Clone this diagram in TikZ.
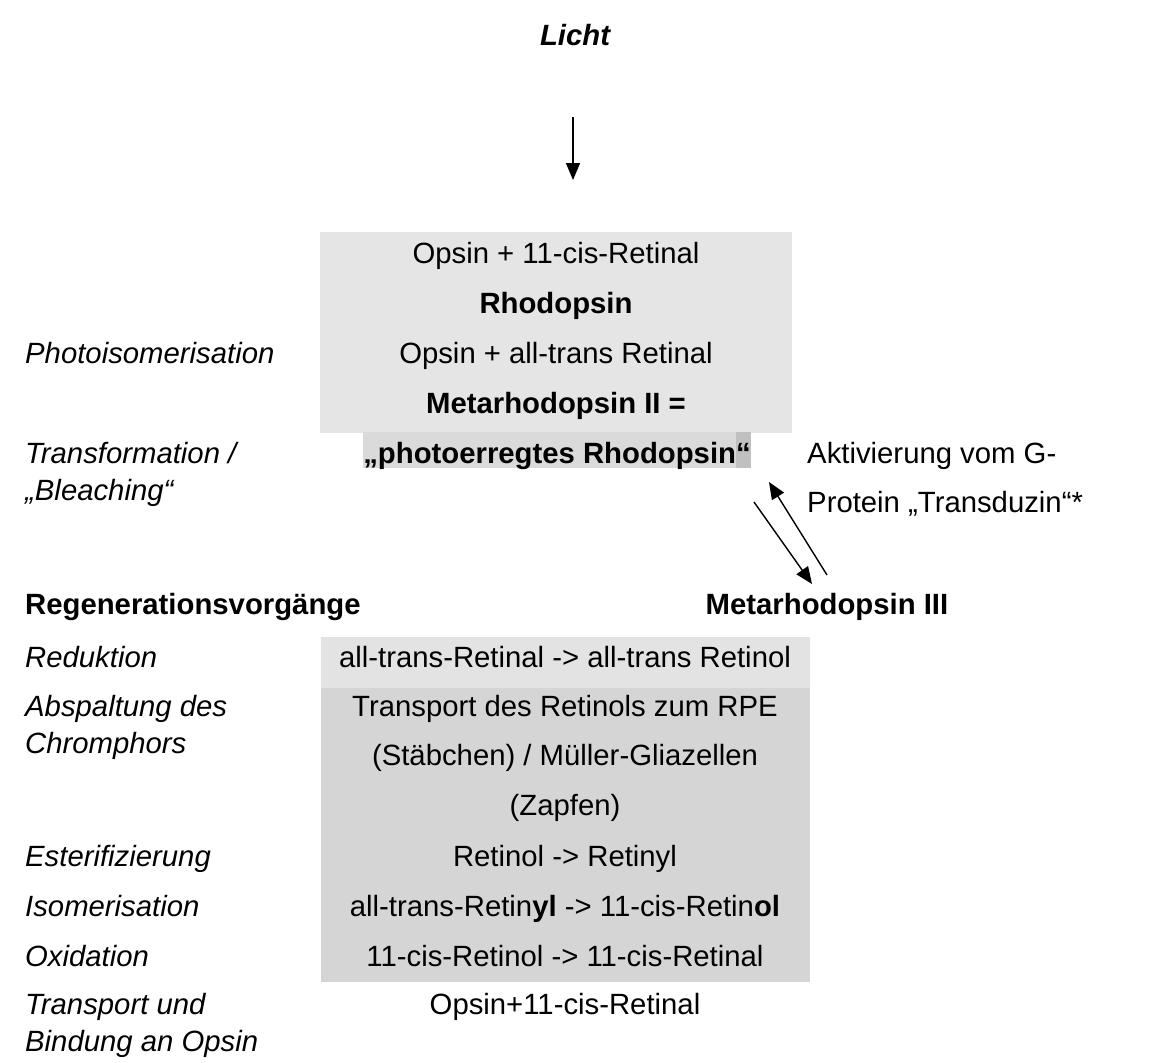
\documentclass[tikz,border=0pt]{standalone}
\usepackage{fontspec}
\setmainfont{Liberation Sans}
\usetikzlibrary{arrows.meta}
\definecolor{boxA}{HTML}{E5E5E5}
\definecolor{hlA}{HTML}{DADADA}
\definecolor{hlB}{HTML}{C0C0C0}
\definecolor{bandA}{HTML}{E3E3E3}
\definecolor{dith}{HTML}{D5D5D5}
\begin{document}
\begin{tikzpicture}[x=1pt,y=-1pt,
  txt/.style={font=\fontsize{29.3}{35}\selectfont, inner sep=0pt, anchor=base},
  bld/.style={txt, font=\fontsize{29.3}{35}\selectfont\bfseries},
  lbl/.style={txt, anchor=base west, font=\fontsize{29.3}{35}\selectfont\itshape},
  lblb/.style={txt, anchor=base west, font=\fontsize{29.3}{35}\selectfont\bfseries},
  rtxt/.style={txt, anchor=base west},
  arr/.style={line width=1.4pt, -{Triangle[length=17pt,width=14pt]}}]
\useasboundingbox (0,0) rectangle (1168,1063);
\fill[white] (0,0) rectangle (1168,1063);
% title and light arrow
\node[txt, font=\fontsize{29.3}{35}\selectfont\bfseries\itshape] (licht) at (575,45) {Licht};
\coordinate (la) at (573,117);
\coordinate (lb) at (573,180);
\draw[arr] (la) -- (lb);
% top box
\fill[boxA] (320,232) rectangle (792,433);
\fill[hlA] (363,432) rectangle (736,468);
\fill[hlB] (736,432) rectangle (751,468);
\node[txt] (r1) at (556,263) {Opsin + 11-cis-Retinal};
\node[bld] (r2) at (556,313) {Rhodopsin};
\node[txt] (r3) at (556,363) {Opsin + all-trans Retinal};
\node[bld] (r4) at (556,413) {Metarhodopsin II =};
\node[bld] (r5) at (557,463) {„photoerregtes Rhodopsin“};
% left labels (upper)
\node[lbl] (l1) at (25,363) {Photoisomerisation};
\node[lbl] (l2) at (25,463) {Transformation /};
\node[lbl] (l2b) at (25,500) {„Bleaching“};
% right labels
\node[rtxt] (a1) at (807,463) {Aktivierung vom G-};
\node[rtxt] (a2) at (807,512) {Protein „Transduzin“*};
% equilibrium arrows
\coordinate (da) at (754,502);
\coordinate (db) at (812,584);
\coordinate (ua) at (827,575);
\coordinate (ub) at (769,482);
\draw[arr] (da) -- (db);
\draw[arr] (ua) -- (ub);
\node[lblb] (reg) at (25,614) {Regenerationsvorgänge};
\node[bld] (m3) at (827,614) {Metarhodopsin III};
% lower box
\fill[bandA] (321,637) rectangle (810,688);
\fill[dith] (321,688) rectangle (810,982);
\node[txt] (s1) at (565,667) {all-trans-Retinal -> all-trans Retinol};
\node[txt] (s2) at (565,716) {Transport des Retinols zum RPE};
\node[txt] (s3) at (565,765) {(Stäbchen) / Müller-Gliazellen};
\node[txt] (s4) at (565,815) {(Zapfen)};
\node[txt] (s5) at (565,866) {Retinol -> Retinyl};
\node[txt] (s6) at (565,916) {all-trans-Retin\textbf{yl} -> 11-cis-Retin\textbf{ol}};
\node[txt] (s7) at (565,966) {11-cis-Retinol -> 11-cis-Retinal};
\node[txt] (s8) at (565,1014) {Opsin+11-cis-Retinal};
% left labels (lower)
\node[lbl] (k1) at (25,667) {Reduktion};
\node[lbl] (k2) at (25,716) {Abspaltung des};
\node[lbl] (k2b) at (25,753) {Chromphors};
\node[lbl] (k3) at (25,866) {Esterifizierung};
\node[lbl] (k4) at (25,916) {Isomerisation};
\node[lbl] (k5) at (25,966) {Oxidation};
\node[lbl] (k6) at (25,1014) {Transport und};
\node[lbl] (k6b) at (25,1051) {Bindung an Opsin};
\end{tikzpicture}
\end{document}
